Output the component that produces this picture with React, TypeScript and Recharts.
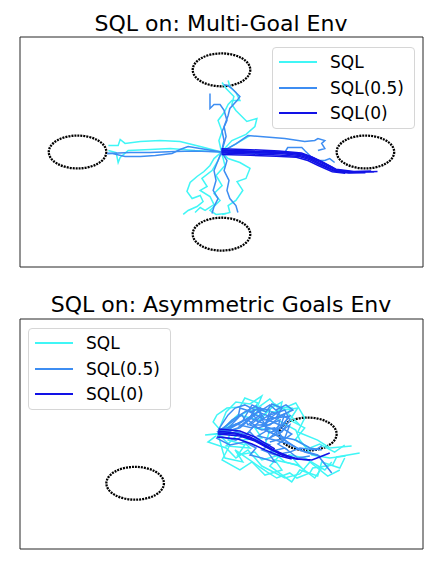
import React from 'react';
import { LineChart, Line, XAxis, YAxis, ReferenceArea, Legend } from 'recharts';

type Pt = [number, number];

const SERIES_NAMES = ['SQL', 'SQL(0.5)', 'SQL(0)'];
const SERIES_COLORS = ['#40F6F6', '#3D8DF2', '#1212E6'];

const DOMAIN: [number, number] = [-7, 7];
const GOAL_RADIUS = 1;

// ---------- Multi-Goal Env ----------
const MG_TITLE = 'SQL on: Multi-Goal Env';
const MG_GOALS: Pt[] = [[0, 5], [-5, 0], [5, 0], [0, -5]];

const MG_SQL: Pt[][] = [
  [[0, 0], [-0.09, 0.7], [0.02, 1.25], [-0.12, 1.92], [0.09, 2.4], [0.23, 2.89], [0.36, 3.13], [0.64, 3.13], [0.5, 3.62], [0.29, 3.99], [0.23, 4.35]],
  [[0, 0], [0.36, 0.7], [0.85, 1.07], [1.16, 1.55], [1.23, 2.04], [0.88, 1.86], [0.5, 2.53], [0.36, 2.89], [0.43, 3.38], [0.16, 3.86], [0.02, 4.23]],
  [[0, 0], [-0.74, 0.33], [-1.44, 0.64], [-2.13, 0.7], [-2.82, 0.64], [-3.35, 0.52], [-3.52, 0.76], [-3.59, 0.4], [-3.93, 0.4]],
  [[0, 0], [-0.92, 0.09], [-1.78, 0.21], [-2.48, 0.15], [-3.24, 0.09], [-3.52, -0.33], [-3.59, -0.64], [-3.66, -0.03], [-3.93, 0.09]],
  [[0, 0], [0.5, 0.5], [0.99, 1.0]],
  [[0, 0], [-0.26, -0.4], [-0.4, -0.82], [-0.61, -1.19], [-0.85, -1.49], [-1.09, -1.86], [-1.2, -2.4], [-1.02, -2.83], [-0.74, -2.65], [-0.64, -3.01], [-0.85, -3.32], [-1.16, -3.56], [-1.33, -3.8]],
  [[0, 0], [0.23, -0.4], [0.64, -0.64], [0.99, -1.0], [0.85, -1.61], [0.54, -1.8], [0.74, -2.34], [0.5, -2.95], [0.23, -3.26], [0.29, -3.68], [0.02, -3.8]],
  [[0, 0], [-0.12, -0.52], [-0.33, -1.13], [-0.68, -1.61], [-0.5, -2.1], [-0.74, -2.34], [-0.4, -2.71], [-0.26, -3.2], [-0.57, -3.56], [-0.74, -3.38], [-0.92, -3.68]],
  [[0, 0], [0.12, -0.82], [-0.19, -1.43], [0.02, -2.04], [-0.26, -2.53], [-0.05, -2.95], [-0.4, -3.56], [-0.19, -3.8], [0.16, -3.74]],
];

const MG_SQL05: Pt[][] = [
  [[0, 0], [0.09, 0.7], [0.02, 1.25], [0.19, 1.92], [0.09, 2.53], [-0.05, 2.89], [-0.26, 2.89], [-0.4, 2.65], [-0.4, 3.13], [-0.4, 3.56]],
  [[0, 0], [0.16, 0.94], [0.09, 1.55], [0.23, 2.22], [0.29, 2.65], [0.54, 3.13], [0.64, 3.38], [0.36, 3.86], [0.23, 4.04], [0.09, 4.1]],
  [[0, 0], [-0.74, 0.21], [-1.16, 0.33], [-1.44, 0.15], [-1.72, -0.09], [-2.3, -0.21], [-2.82, -0.27], [-3.35, -0.27], [-3.79, -0.09], [-3.97, -0.09]],
  [[0, 0], [-0.92, 0.06], [-1.61, 0.03], [-2.48, -0.03], [-3.17, -0.03], [-3.97, -0.09]],
  [[0, 0], [0.5, 0.5], [0.92, 1.0], [2.2, 0.82], [2.89, 0.64], [3.24, 0.7], [3.35, 0.82], [3.59, 0.7], [3.48, 0.52], [3.59, 0.21], [3.35, 0.09]],
  [[0, 0], [1.4, -0.09], [2.2, -0.03], [2.3, 0.27], [2.79, 0.27], [2.89, 0.09], [3.14, -0.33], [3.35, -0.52], [3.59, -0.52], [3.76, -0.4], [3.93, -0.64]],
  [[0, 0], [-0.12, -0.52], [-0.26, -1.13], [-0.19, -1.73], [-0.29, -2.34], [-0.12, -2.83], [-0.26, -3.32], [-0.33, -3.74]],
  [[0, 0], [0.19, -0.52], [0.09, -1.13], [0.26, -1.73], [0.19, -2.34], [0.29, -2.83], [0.5, -3.26], [0.57, -3.68]],
];

const MG_SQL0: Pt[][] = [
  [[0, 0], [0.99, -0.03], [2.03, -0.09], [2.72, -0.21], [3.07, -0.4], [3.41, -0.7], [3.93, -1.13], [4.45, -1.25], [5.42, -1.19]],
  [[0, 0.06], [1.0, 0.03], [2.0, -0.03], [2.75, -0.15], [3.1, -0.35], [3.45, -0.65], [3.95, -1.08], [4.5, -1.2], [5.3, -1.2]],
  [[0, -0.06], [1.0, -0.12], [2.0, -0.18], [2.7, -0.27], [3.05, -0.46], [3.4, -0.76], [3.9, -1.16], [4.4, -1.28], [5.0, -1.27]],
  [[0, 0.12], [1.0, 0.06], [2.1, 0.0], [2.8, -0.12], [3.15, -0.32], [3.5, -0.6], [3.98, -1.05], [4.6, -1.18], [5.2, -1.16]],
  [[0, 0.2], [1.0, 0.14], [2.0, 0.06], [2.78, -0.06], [3.12, -0.28], [3.46, -0.58], [3.9, -0.98]],
  [[0, -0.15], [1.0, -0.2], [1.9, -0.26], [2.6, -0.32], [3.0, -0.52], [3.36, -0.82], [3.85, -1.2], [4.3, -1.3]],
];

// ---------- Asymmetric Goals Env ----------
const AG_TITLE = 'SQL on: Asymmetric Goals Env';
const AG_GOALS: Pt[] = [[3, 0], [-3, -3]];

const AG_SQL: Pt[][] = [
  [[-0.12, 0], [-0.57, -0.06], [0.05, 0.06], [-0.29, 0.73], [-0.16, 1.16], [0.19, 1.58], [0.64, 1.64], [0.81, 2.19], [1.26, 1.89], [1.06, 1.34], [1.68, 2.13], [1.93, 1.64], [2.44, 1.58], [2.3, 1.28], [2.72, 0.55]],
  [[-0.12, 0], [0.05, -1.1], [0.12, -1.46], [0.74, -1.7], [0.47, -0.97], [1.23, -1.89], [1.58, -2.31], [1.92, -2.68], [2.37, -2.37], [2.62, -2.68], [3.07, -2.37], [3.17, -2.07], [3.86, -1.89], [4.0, -1.4], [4.8, -1.16]],
  [[-0.09, 0.12], [0.36, 0.55], [0.23, -0.37], [0.81, -0.67], [0.57, -1.28], [1.16, -1.1], [1.4, -1.58], [2.03, -1.28], [1.68, -1.95], [2.44, -2.92], [2.72, -2.19], [3.34, -2.56], [3.48, -1.7], [4.11, -2.07], [4.28, -1.46]],
  [[-0.16, -0.12], [0.47, 0.97], [0.99, 1.46], [1.4, 0.97], [1.85, 1.83], [2.2, 1.46], [2.65, 1.58], [2.37, 0.85], [2.89, 0.37], [2.55, -0.37], [3.07, -0.85], [3.41, -0.61], [3.93, -1.1], [4.28, -0.67]],
  [[-0.05, -0.06], [0.64, 0.12], [0.16, -0.73], [0.99, -0.85], [0.71, -0.37], [1.4, -0.24], [1.16, 0.37], [1.68, 0.24], [1.51, -0.67], [2.2, -1.7], [2.72, -1.95], [2.37, -1.28], [2.89, -1.46], [3.59, -2.19], [3.83, -1.7]],
  [[-0.12, 0.06], [0.57, 1.16], [1.33, 0.85], [1.61, 1.46], [2.1, 1.95], [1.96, 0.85], [2.58, 0.24], [2.72, -0.37], [3.14, -1.28], [3.76, -1.46], [4.31, -1.34]],
  [[-0.12, 0], [0.29, -0.67], [0.02, -1.58], [0.64, -2.19], [1.06, -1.7], [1.51, -2.5], [2.1, -2.19], [1.85, -1.58], [2.65, -1.89], [3.24, -2.68], [3.48, -2.07]],
  [[-0.12, 0.12], [0.16, 1.34], [0.5, 1.95], [0.99, 1.83], [1.4, 2.31], [1.2, 1.46], [1.85, 1.34], [2.58, 1.89], [2.89, 0.97], [2.65, 0.12], [3.34, -0.37], [3.76, -0.85], [4.52, -0.73]],
  [[-0.19, -0.12], [-0.47, -0.49], [0.16, -0.85], [0.5, -1.46], [0.92, -0.97], [1.4, -1.95], [2.2, -2.68], [2.72, -2.43], [3.07, -1.7], [3.69, -2.56], [4.11, -2.19]],
];

const AG_SQL05: Pt[][] = [
  [[-0.12, 0.06], [0.47, 0.55], [0.92, 0.97], [1.4, 1.46], [1.68, 1.77], [1.96, 1.34], [1.61, 0.85], [2.03, 0.55], [1.75, 0.12]],
  [[-0.12, -0.06], [0.64, 0.37], [1.16, 1.16], [1.33, 1.58], [0.99, 1.34], [1.51, 0.85], [1.85, 0.97], [2.2, 1.22], [2.03, 0.37], [1.68, -0.24]],
  [[-0.05, 0.12], [0.36, 0.85], [0.81, 1.34], [1.2, 1.7], [1.4, 1.1], [0.99, 0.55], [1.4, 0.24], [1.85, 0.37], [2.2, -0.37], [2.72, -0.97], [3.34, -1.28], [3.83, -2.37]],
  [[-0.16, 0], [0.23, 0.37], [0.57, 0.97], [0.64, 1.58], [1.06, 1.34], [1.26, 0.73], [1.68, 1.16], [2.2, 1.46], [2.37, 0.85], [2.1, 0.12], [1.51, -0.37]],
  [[-0.09, -0.12], [0.5, -0.37], [0.99, 0.12], [1.26, -0.37], [1.68, -0.67], [1.4, -0.97], [1.85, -1.28], [2.37, -1.1], [2.72, -0.85], [3.27, -0.97], [3.48, -0.73]],
  [[-0.12, 0.24], [0.23, 1.16], [0.47, 1.58], [0.81, 1.77], [1.16, 1.46], [0.92, 0.85], [1.26, 0.37], [1.61, 0.55], [2.03, 0.85], [1.89, -0.06], [2.3, -0.49]],
  [[-0.05, 0], [0.71, 0.73], [1.06, 1.77], [1.54, 1.34], [1.75, 1.83], [2.1, 1.58], [1.89, 0.97], [2.37, 1.1], [1.96, 0.24], [1.61, 0.06]],
  [[-0.19, -0.24], [0.29, -0.67], [0.81, -0.49], [1.2, -0.85], [0.99, -1.28], [1.4, -1.46], [1.85, -1.7], [1.61, -1.1], [2.2, -0.85], [2.65, -1.46], [3.07, -1.34]],
  [[-0.12, 0.06], [0.81, 0.85], [1.26, 1.34], [1.85, 0.97], [1.4, 0.55], [2.03, 0.12], [2.37, 0.55], [2.2, -0.24], [1.68, -0.49]],
  [[-0.09, 0], [0.57, 0.37], [0.99, 0.97], [1.51, 0.61], [1.75, 1.34], [2.3, 0.97], [2.1, 0.37], [2.44, 0], [1.96, -0.61], [2.3, -0.97]],
  [[-0.16, 0.12], [0.71, 1.16], [0.92, 0.55], [1.33, 1.16], [1.61, 0.24], [1.26, -0.12], [1.85, -0.37], [2.37, -0.61], [2.89, -1.1], [3.41, -1.34]],
  [[-0.12, -0.06], [0.36, 0.24], [0.85, -0.06], [1.16, 0.55], [1.68, 0.55], [2.1, 1.16], [2.48, 1.46], [2.24, 1.77], [1.89, 1.46]],
  [[-0.12, 0.12], [0.5, 0.61], [1.06, 0.37], [1.47, 0.97], [1.26, 1.58], [1.68, 1.46], [1.51, 0.24], [1.96, -0.12], [2.58, -0.37], [3.07, -0.85], [3.48, -0.97]],
];

const AG_SQL0: Pt[][] = [
  [[-0.12, 0.18], [0.47, 0.06], [0.99, -0.18], [1.4, -0.55], [1.75, -0.91], [2.2, -1.28], [2.65, -1.52], [3.14, -1.58], [3.41, -1.4], [3.76, -1.16]],
  [[-0.12, 0], [0.64, -0.12], [1.16, -0.43], [1.61, -0.85], [2.1, -1.28], [2.58, -1.52], [3.07, -1.58]],
  [[-0.16, -0.18], [0.57, -0.3], [1.06, -0.61], [1.51, -0.97], [2.03, -1.34], [2.44, -1.52]],
  [[-0.09, 0.3], [0.64, 0.18], [1.16, -0.18], [1.51, -0.55], [1.85, -0.91]],
  [[-0.12, 0.08], [0.55, -0.02], [1.08, -0.3], [1.5, -0.7], [1.92, -1.1], [2.4, -1.4]],
];

const toRows = (t: Pt[]) => t.map(([x, y]) => ({ x, y }));

const GoalEllipse = (props: any) => {
  const { x, y, width, height } = props;
  return (
    <ellipse
      cx={x + width / 2}
      cy={y + height / 2}
      rx={Math.abs(width) / 2}
      ry={Math.abs(height) / 2}
      fill="none"
      stroke="#000"
      strokeWidth={2.3}
      strokeDasharray="2 1"
    />
  );
};

const makeLegend = () => (props: any) => {
  const payload = props.payload || [];
  const items = SERIES_NAMES.map((n) => payload.find((p: any) => p.value === n)).filter(Boolean);
  return (
    <div
      style={{
        width: 143,
        height: 82,
        boxSizing: 'border-box',
        border: '1px solid #d6d6d6',
        borderRadius: 4,
        background: 'rgba(255,255,255,0.85)',
        position: 'relative',
        fontFamily: '"DejaVu Sans", sans-serif',
        fontSize: 17,
        color: '#000',
      }}
    >
      {items.map((it: any, i: number) => (
        <div key={it.value} style={{ position: 'absolute', left: 0, top: 14 + i * 25.5 - 10, height: 20, width: '100%' }}>
          <svg width={45} height={20} style={{ position: 'absolute', left: 0, top: 0 }}>
            <line x1={6} x2={44} y1={10} y2={10} stroke={it.color} strokeWidth={2} />
          </svg>
          <span style={{ position: 'absolute', left: 57, top: 0, lineHeight: '20px', whiteSpace: 'nowrap' }}>{it.value}</span>
        </div>
      ))}
    </div>
  );
};

type PanelProps = {
  title: string;
  top: number;
  height: number;
  margin: { top: number; right: number; bottom: number; left: number };
  groups: Pt[][][];
  goals: Pt[];
  legendPos: { top: number; left: number };
  titleTop: number;
};

const Panel = ({ title, top, height, margin, groups, goals, legendPos, titleTop }: PanelProps) => (
  <div style={{ position: 'absolute', left: 0, top, width: 440, height }}>
    <div
      style={{
        position: 'absolute',
        left: 0,
        top: titleTop,
        width: 442,
        textAlign: 'center',
        fontFamily: '"DejaVu Sans", sans-serif',
        fontSize: 22,
        lineHeight: '22px',
        color: '#000',
        whiteSpace: 'nowrap',
      }}
    >
      {title}
    </div>
    <div style={{ position: 'absolute', left: 0, top: 0 }}>
      <LineChart width={440} height={height} margin={margin}>
        <XAxis type="number" dataKey="x" domain={DOMAIN} allowDataOverflow hide />
        <YAxis type="number" dataKey="y" domain={DOMAIN} allowDataOverflow hide />
        <ReferenceArea x1={DOMAIN[0]} x2={DOMAIN[1]} y1={DOMAIN[0]} y2={DOMAIN[1]} fill="none" stroke="#262626" strokeWidth={1} ifOverflow="visible" />
        {goals.map(([gx, gy], i) => (
          <ReferenceArea
            key={'g' + i}
            x1={gx - GOAL_RADIUS}
            x2={gx + GOAL_RADIUS}
            y1={gy - GOAL_RADIUS}
            y2={gy + GOAL_RADIUS}
            shape={GoalEllipse}
            ifOverflow="visible"
          />
        ))}
        {groups.map((trajs, s) =>
          trajs.map((t, k) => (
            <Line
              key={s + '-' + k}
              data={toRows(t)}
              dataKey="y"
              name={SERIES_NAMES[s]}
              type="linear"
              stroke={SERIES_COLORS[s]}
              strokeWidth={1.5}
              dot={false}
              activeDot={false}
              legendType={k === 0 ? 'line' : 'none'}
              isAnimationActive={false}
            />
          ))
        )}
        <Legend
          layout="vertical"
          align="center"
          verticalAlign="middle"
          width={143}
          height={82}
          wrapperStyle={{ top: legendPos.top, left: legendPos.left, width: 143, height: 82 }}
          content={makeLegend()}
        />
      </LineChart>
    </div>
  </div>
);

export default function App() {
  return (
    <div style={{ position: 'absolute', left: 0, top: 0, width: 440, height: 570, background: '#fff' }}>
      <Panel
        title={MG_TITLE}
        top={0}
        height={280}
        margin={{ top: 37, right: 17, bottom: 13, left: 20 }}
        groups={[MG_SQL, MG_SQL05, MG_SQL0]}
        goals={MG_GOALS}
        legendPos={{ top: 47, left: 272 }}
        titleTop={13.4}
      />
      <Panel
        title={AG_TITLE}
        top={280}
        height={290}
        margin={{ top: 39, right: 17, bottom: 21, left: 20 }}
        groups={[AG_SQL, AG_SQL05, AG_SQL0]}
        goals={AG_GOALS}
        legendPos={{ top: 48, left: 28 }}
        titleTop={14.4}
      />
    </div>
  );
}
